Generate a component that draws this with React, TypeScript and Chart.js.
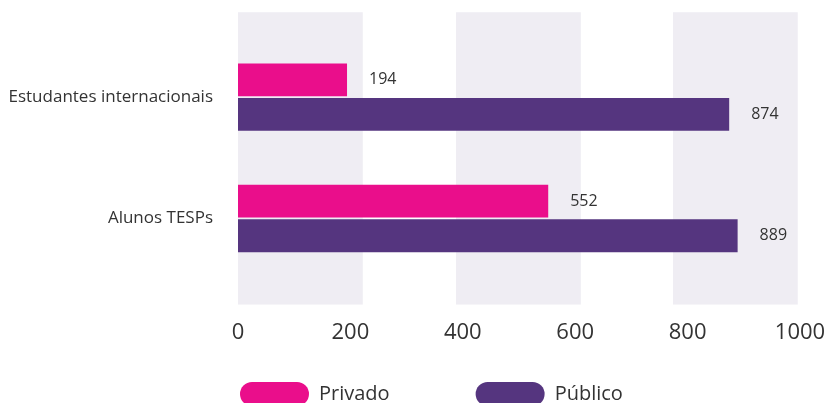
import React, { useEffect, useRef } from "react";
import { Chart, registerables } from "chart.js";

Chart.register(...registerables);

const categories = ["Estudantes internacionais", "Alunos TESPs"];
const seriesNames = ["Privado", "Público"];
const privadoValues = [194, 552];
const publicoValues = [874, 889];
const xTicks = [0, 200, 400, 600, 800, 1000];
// background bands in x-axis value units
const bandRanges: [number, number][] = [
  [0, 222],
  [388, 610],
  [774, 996],
];

const PINK = "#EA0E8B";
const PURPLE = "#55357F";
const BAND = "#EFEDF3";
const TEXT = "#333333";
const FONT = "'Open Sans', sans-serif";

const bandsPlugin = {
  id: "bands",
  beforeDatasetsDraw(chart: any) {
    const { ctx, scales } = chart;
    const x = scales.x;
    const y = scales.y;
    const top = y.getPixelForValue(-0.7);
    const bottom = y.getPixelForValue(1.71);
    ctx.save();
    ctx.fillStyle = BAND;
    for (const [a, b] of bandRanges) {
      const x0 = x.getPixelForValue(a);
      const x1 = x.getPixelForValue(b);
      ctx.fillRect(x0, top, x1 - x0, bottom - top);
    }
    ctx.restore();
  },
};

const valueLabelsPlugin = {
  id: "valueLabels",
  afterDatasetsDraw(chart: any) {
    const { ctx } = chart;
    ctx.save();
    ctx.font = `16px ${FONT}`;
    ctx.fillStyle = TEXT;
    ctx.textAlign = "left";
    ctx.textBaseline = "middle";
    chart.data.datasets.forEach((ds: any, di: number) => {
      const meta = chart.getDatasetMeta(di);
      meta.data.forEach((bar: any, i: number) => {
        ctx.fillText(String(ds.data[i]), bar.x + 22, bar.y);
      });
    });
    ctx.restore();
  },
};

const legendPlacePlugin = {
  id: "legendPlace",
  afterLayout(chart: any) {
    const lg = chart.legend;
    if (lg) {
      const pad = lg.options.labels.padding;
      lg.left = 240 - pad;
      lg.top = 382 - pad;
    }
  },
};

export default function App() {
  const ref = useRef<HTMLCanvasElement | null>(null);

  useEffect(() => {
    document.documentElement.style.overflow = "hidden";
    document.body.style.margin = "0";
    Chart.defaults.font.family = FONT;
    Chart.defaults.color = TEXT;
    const chart = new Chart(ref.current as HTMLCanvasElement, {
      type: "bar",
      data: {
        labels: categories,
        datasets: [
          {
            label: seriesNames[0],
            data: privadoValues,
            backgroundColor: PINK,
            barPercentage: 0.95,
            categoryPercentage: 0.57,
          },
          {
            label: seriesNames[1],
            data: publicoValues,
            backgroundColor: PURPLE,
            barPercentage: 0.95,
            categoryPercentage: 0.57,
          },
        ],
      },
      options: {
        indexAxis: "y",
        animation: false,
        responsive: false,
        devicePixelRatio: 1,
        layout: { padding: { top: 36.5, right: 25, bottom: -40.5, left: 0 } },
        scales: {
          x: {
            min: 0,
            max: 1000,
            afterBuildTicks: (axis: any) => {
              axis.ticks = xTicks.map((v) => ({ value: v }));
            },
            afterFit: (axis: any) => {
              axis.paddingLeft = 0;
              axis.paddingRight = 0;
            },
            grid: { display: false, drawTicks: false },
            border: { display: false },
            ticks: {
              padding: 40,
              maxRotation: 0,
              font: { size: 22, family: FONT },
              color: TEXT,
              callback: (v: any) => String(v),
            },
          },
          y: {
            afterFit: (axis: any) => {
              axis.width = 238;
            },
            grid: { display: false, drawTicks: false },
            border: { display: false },
            ticks: { padding: 25, font: { size: 17, family: FONT }, color: TEXT },
          },
        },
        plugins: {
          legend: {
            position: "bottom",
            align: "start",
            maxHeight: 58,
            labels: {
              boxWidth: 69,
              boxHeight: 24,
              useBorderRadius: true,
              borderRadius: 12,
              padding: 86,
              font: { size: 20, family: FONT },
              color: TEXT,
            },
          },
          tooltip: { enabled: false },
        },
      },
      plugins: [bandsPlugin, valueLabelsPlugin, legendPlacePlugin],
    });
    return () => chart.destroy();
  }, []);

  return (
    <div style={{ width: 825, height: 403 }}>
      <canvas ref={ref} width={825} height={403} style={{ display: "block" }} />
    </div>
  );
}
